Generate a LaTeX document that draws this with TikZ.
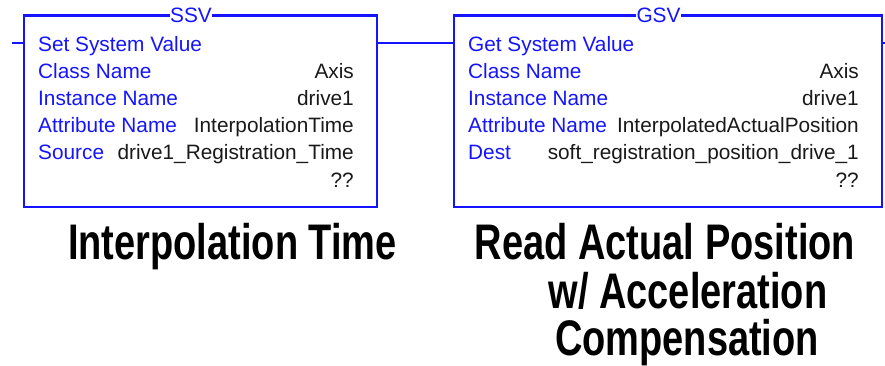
\documentclass[tikz,border=0pt]{standalone}
\usepackage{fontspec}
\setmainfont{Liberation Sans}
\newfontfamily\capfont{Liberation Sans}[FakeStretch=0.76]
\definecolor{rlblue}{RGB}{20,20,255}
\definecolor{rltext}{RGB}{25,25,25}
\begin{document}
\begin{tikzpicture}[x=1pt,y=-1pt,
  rung/.style={draw=rlblue,line width=2.4pt},
  fbox/.style={draw=rlblue,line width=2.4pt,rectangle,inner sep=0pt,outer sep=0pt},
  lbl/.style={text=rlblue,font=\fontsize{20.8}{22}\selectfont,inner sep=0pt,anchor=base west},
  val/.style={text=rltext,font=\fontsize{20.8}{22}\selectfont,inner sep=0pt,anchor=base east},
  ttl/.style={text=rlblue,font=\fontsize{20.8}{22}\selectfont,fill=white,inner xsep=0.5pt,inner ysep=1pt,anchor=base},
  captext/.style={font=\capfont\bfseries\fontsize{50}{50}\selectfont,inner sep=0pt,anchor=base}]
\useasboundingbox (0,0) rectangle (885,365);
% boxes
\node[fbox,minimum width=353pt,minimum height=191.5pt] (ssv) at (200.5,111.3) {};
\node[fbox,minimum width=428pt,minimum height=191.5pt] (gsv) at (668,111.3) {};
% rung
\coordinate (rs) at (12,43);
\coordinate (re) at (885,43);
\draw[rung] (rs) -- (rs -| ssv.west);
\draw[rung] (ssv.east |- rs) -- (gsv.west |- rs);
\draw[rung] (gsv.east |- rs) -- (re);
% titles
\node[ttl] (ssvt) at (191,22.7) {SSV};
\node[ttl] (gsvt) at (658.5,22.7) {GSV};
% SSV content
\node[lbl] (s1) at (38,51) {Set System Value};
\node[lbl] (s2) at (38,78.2) {Class Name};
\node[val] (s2v) at (354,78.2) {Axis};
\node[lbl] (s3) at (38,105.4) {Instance Name};
\node[val] (s3v) at (354,105.4) {drive1};
\node[lbl] (s4) at (38,132.6) {Attribute Name};
\node[val] (s4v) at (354,132.6) {InterpolationTime};
\node[lbl] (s5) at (38,159.8) {Source};
\node[val] (s5v) at (354,159.8) {drive1\_Registration\_Time};
\node[val] (s6v) at (354,187) {??};
% GSV content
\node[lbl] (g1) at (468,51) {Get System Value};
\node[lbl] (g2) at (468,78.2) {Class Name};
\node[val] (g2v) at (859,78.2) {Axis};
\node[lbl] (g3) at (468,105.4) {Instance Name};
\node[val] (g3v) at (859,105.4) {drive1};
\node[lbl] (g4) at (468,132.6) {Attribute Name};
\node[val] (g4v) at (859,132.6) {InterpolatedActualPosition};
\node[lbl] (g5) at (468,159.8) {Dest};
\node[val] (g5v) at (859,159.8) {soft\_registration\_position\_drive\_1};
\node[val] (g6v) at (859,187) {??};
% captions
\node[captext] (c1) at (232.5,259) {Interpolation Time};
\node[captext] (c2) at (665,259) {Read Actual Position};
\node[captext] (c3) at (688,308) {w/ Acceleration};
\node[captext] (c4) at (687,355) {Compensation};
\end{tikzpicture}
\end{document}
